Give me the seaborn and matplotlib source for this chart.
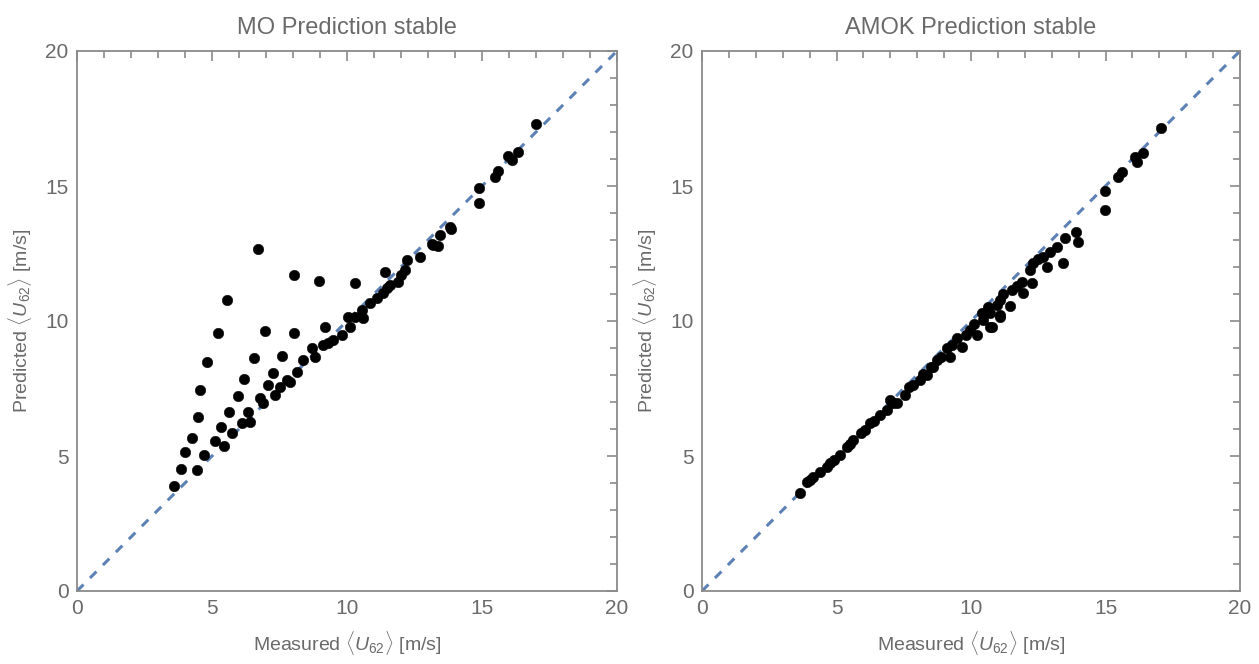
import matplotlib
matplotlib.use("Agg")
import matplotlib.pyplot as plt
import seaborn as sns
import pandas as pd
from matplotlib.ticker import MultipleLocator

# ---------------- data ----------------
mo_measured = [3.60, 3.85, 4.00, 4.25, 4.43, 4.49, 4.56, 4.72, 4.80, 5.11, 5.23, 5.33, 5.44,
               5.56, 5.63, 5.73, 5.95, 6.10, 6.19, 6.35, 6.41, 6.57, 6.71, 6.78, 6.88, 6.95,
               7.09, 7.26, 7.33, 7.52, 7.58, 7.77, 8.04, 8.04, 8.14, 8.38, 8.69, 8.96, 9.12,
               9.19, 9.49, 9.80, 10.05, 10.11, 10.28, 10.54, 10.60, 10.85, 11.10, 11.34, 11.42,
               11.47, 11.90, 12.15, 12.21, 12.70, 13.13, 13.20, 13.38, 13.44, 13.80, 13.87,
               14.90, 14.90, 15.48, 15.60, 15.97, 16.10, 16.35, 17.00,
               7.90, 8.80, 9.30, 10.30, 12.00, 11.60]
mo_predicted = [3.89, 4.53, 5.16, 5.68, 4.48, 6.46, 7.44, 5.04, 8.47, 5.56, 9.54, 6.06, 5.37,
                10.78, 6.62, 5.86, 7.23, 6.24, 7.85, 6.64, 6.27, 8.64, 12.68, 7.14, 6.95, 9.63,
                7.63, 8.09, 7.26, 7.57, 8.70, 7.81, 11.70, 9.54, 8.12, 8.56, 8.99, 11.48, 9.11,
                9.79, 9.30, 9.48, 10.16, 9.79, 11.39, 10.41, 10.10, 10.65, 10.84, 11.02, 11.80,
                11.21, 11.46, 11.89, 12.26, 12.38, 12.86, 12.81, 12.79, 13.19, 13.50, 13.41,
                14.91, 14.38, 15.35, 15.56, 16.11, 15.96, 16.27, 17.28,
                7.75, 8.65, 9.20, 10.15, 11.70, 11.35]

amok_measured = [3.64, 3.89, 4.14, 4.39, 4.64, 4.76, 5.13, 5.38, 5.62, 6.06, 6.25, 6.62, 6.87,
                 6.99, 7.24, 7.55, 7.86, 8.10, 8.35, 8.60, 8.72, 9.10, 9.22, 9.47, 9.65, 9.96,
                 10.21, 10.40, 10.46, 10.64, 10.71, 10.71, 10.77, 10.96, 11.08, 11.08, 11.08,
                 11.45, 11.51, 11.89, 11.95, 12.19, 12.26, 12.32, 12.69, 12.81, 12.94, 13.19,
                 13.41, 13.49, 13.90, 13.97, 14.98, 14.98, 15.48, 15.60, 16.10, 16.16, 16.41,
                 17.06,
                 4.00, 4.90, 5.50, 5.90, 6.40, 7.10, 7.70, 8.20, 8.50, 8.90, 9.30, 9.80, 10.10,
                 11.20, 11.70, 12.50]
amok_predicted = [3.64, 4.05, 4.23, 4.42, 4.60, 4.73, 5.04, 5.35, 5.59, 5.96, 6.21, 6.52, 6.70,
                  7.07, 6.95, 7.26, 7.63, 7.81, 8.00, 8.31, 8.56, 8.99, 8.68, 9.36, 9.05, 9.67,
                  9.48, 10.28, 10.04, 10.53, 10.28, 9.79, 9.79, 10.59, 10.22, 10.78, 10.16,
                  10.56, 11.15, 11.46, 11.03, 11.89, 11.40, 12.14, 12.38, 12.01, 12.57, 12.75,
                  12.14, 13.06, 13.31, 12.94, 14.83, 14.11, 15.34, 15.53, 16.09, 15.90, 16.21,
                  17.14,
                  4.10, 4.85, 5.45, 5.85, 6.30, 6.95, 7.55, 8.05, 8.30, 8.65, 9.10, 9.50, 9.90,
                  11.00, 11.30, 12.30]

diag = [0, 20]
titles = ["MO Prediction stable", "AMOK Prediction stable"]
xlabel = r"Measured $\langle U_{62}\rangle$ [m/s]"
ylabel = r"Predicted $\langle U_{62}\rangle$ [m/s]"
ticks = [0, 5, 10, 15, 20]

# ---------------- style ----------------
sns.set_theme(style="white")
plt.rcParams["font.family"] = ["Liberation Sans", "DejaVu Sans"]
plt.rcParams["mathtext.fontset"] = "custom"
plt.rcParams["mathtext.rm"] = "Liberation Sans"
plt.rcParams["mathtext.it"] = "Liberation Sans:italic"

frame_col = "#8a8a8a"
text_col = "#6a6a6a"
line_col = "#5e81b5"

fig = plt.figure(figsize=(12.59, 6.64), dpi=100)
ax1 = fig.add_axes([77 / 1259, 73 / 664, 540 / 1259, 540 / 664])
ax2 = fig.add_axes([702 / 1259, 73 / 664, 538 / 1259, 540 / 664])

panels = [(ax1, mo_measured, mo_predicted, titles[0]),
          (ax2, amok_measured, amok_predicted, titles[1])]

for ax, xm, yp, title in panels:
    dline = pd.DataFrame({"x": diag, "y": diag})
    sns.lineplot(data=dline, x="x", y="y", ax=ax, color=line_col, lw=2.2,
                 linestyle=(0, (3, 3)), zorder=1)
    df = pd.DataFrame({"m": xm, "p": yp})
    sns.scatterplot(data=df, x="m", y="p", ax=ax, color="black", s=58,
                    edgecolor="black", linewidth=0.3, zorder=3)
    ax.set_xlim(0, 20)
    ax.set_ylim(0, 20)
    ax.set_xticks(ticks)
    ax.set_yticks(ticks)
    ax.xaxis.set_minor_locator(MultipleLocator(1))
    ax.yaxis.set_minor_locator(MultipleLocator(1))
    ax.tick_params(which="both", direction="in", top=True, right=True,
                   color=frame_col, width=1.2)
    ax.tick_params(which="major", length=7, labelsize=15, labelcolor=text_col, pad=6)
    ax.tick_params(which="minor", length=5)
    for sp in ax.spines.values():
        sp.set_color(frame_col)
        sp.set_linewidth(1.3)
    ax.set_title(title, fontsize=17, color=text_col, pad=12)
    ax.set_xlabel(xlabel, fontsize=14, color=text_col, labelpad=8)
    ax.set_ylabel(ylabel, fontsize=14, color=text_col, labelpad=8)

fig.savefig("out.png", dpi=100)
